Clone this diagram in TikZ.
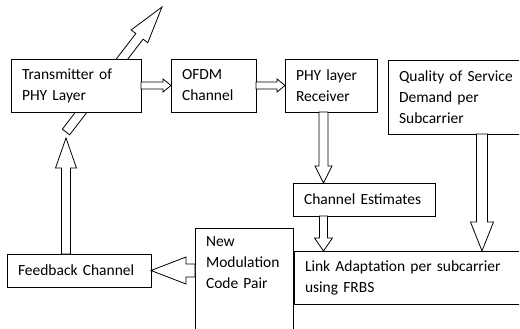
\documentclass[tikz,border=0pt]{standalone}
\usepackage{fontspec}
\setmainfont{Carlito}
\usetikzlibrary{positioning,calc}
\hyphenpenalty=10000
\tikzset{blk/.style={draw, fill=white, line width=0.8pt, align=left, outer sep=0pt,
    inner xsep=11pt, anchor=north west, font=\fontsize{15.5}{21}\selectfont}}
\tikzset{fat/.style={draw, fill=white, line width=0.8pt, line join=miter}}

\newcommand{\fatarrow}[5]{%
  \path ($(#2)!#5!(#1)$) coordinate (fatbase);
  \draw[fat] ($(#1)!#3!90:(#2)$) -- ($(fatbase)!#3!90:(#2)$) -- ($(fatbase)!#4!90:(#2)$)
    -- (#2) -- ($(fatbase)!#4!-90:(#2)$) -- ($(fatbase)!#3!-90:(#2)$)
    -- ($(#1)!#3!-90:(#2)$) -- cycle;}

\begin{document}
\begin{tikzpicture}[x=1pt, y=-1pt]
    \useasboundingbox (0,0) rectangle (520,329);
    \clip (0,0) rectangle (519,329);
    \coordinate (kink) at (66,132);
    \coordinate (out) at (162,7);
    \fatarrow{kink}{out}{4.6pt}{10.5pt}{37pt}
    \node[blk, text width=108pt, minimum height=53pt] (tx) at (11,59) {Transmitter of\\PHY Layer};
    \node[blk, text width=63pt, minimum height=53pt, right=30pt of tx] (ofdm) {OFDM\\Channel};
    \node[blk, text width=70pt, minimum height=53pt, right=29pt of ofdm] (rx) {PHY layer\\Receiver};
    \node[blk, text width=130pt, minimum height=74pt] (qos) at (388,60) {Quality of Service\\Demand per\\Subcarrier};
    \node[blk, text width=120pt, minimum height=33pt] (est) at (293,183) {Channel Estimates};
    \node[blk, text width=220pt, minimum height=53pt] (link) at (294,251) {Link Adaptation per subcarrier\\using FRBS};
    \node[blk, text width=76pt, inner ysep=9pt, text depth=90pt] (newmod) at (195,228) {New\\Modulation\\Code Pair};
    \node[blk, text width=122pt, minimum height=33pt] (fb) at (7,254) {Feedback Channel};
    \coordinate (rxout) at ([xshift=-7.5pt]rx.south);
    \coordinate (estin) at (est.north -| rxout);
    \coordinate (estout) at (est.south -| rxout);
    \coordinate (linkin) at (link.north -| rxout);
    \coordinate (qosout) at ([xshift=94pt]qos.south west);
    \coordinate (qosin) at (link.north -| qosout);
    \coordinate (modout) at (fb.east -| newmod.west);
    \coordinate (fbout) at (fb.north -| kink);
    \coordinate (fbtip) at ([yshift=-6pt]kink);
    \fatarrow{tx.east}{ofdm.west}{3.5pt}{6.5pt}{8pt}
    \fatarrow{ofdm.east}{rx.west}{3.5pt}{6.5pt}{8pt}
    \fatarrow{rxout}{estin}{4.5pt}{8.5pt}{17pt}
    \fatarrow{estout}{linkin}{4pt}{9pt}{13pt}
    \fatarrow{qosout}{qosin}{5.5pt}{11.5pt}{29pt}
    \fatarrow{modout}{fb.east}{6.5pt}{13.5pt}{35pt}
    \fatarrow{fbout}{fbtip}{4.5pt}{10.5pt}{30pt}
\end{tikzpicture}
\end{document}
